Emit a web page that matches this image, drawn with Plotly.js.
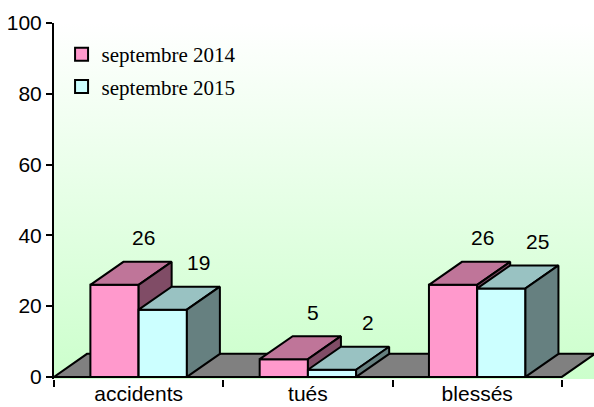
<!DOCTYPE html>
<html>
<head>
<meta charset="utf-8">
<script src="https://cdn.plot.ly/plotly-3.0.1.min.js"></script>
<style>html,body{margin:0;padding:0;background:#fff;}#chart{width:594px;height:407px;}</style>
</head>
<body>
<div id="chart"></div>
<script>
const categories = ['accidents', 'tués', 'blessés'];
const seriesNames = ['septembre 2014', 'septembre 2015'];
const values2014 = [26, 5, 26];
const values2015 = [19, 2, 25];
const yTickVals = [0, 20, 40, 60, 80, 100];

const series = [
  {name: seriesNames[0], values: values2014, front: '#ff99cc', top: '#bf7599', side: '#804c66', side0: -1},
  {name: seriesNames[1], values: values2015, front: '#ccffff', top: '#99c2c2', side: '#668080', side0: 0}
];

const barW = 0.285;     // bar width in category units
const depthX = 0.195;   // 3D depth, x direction (category units)
const depthY = 6.5;     // 3D depth, y direction (value units)
const edge = {color: '#000', width: 2};

function poly(xs, ys, fill) {
  return {type: 'scatter', mode: 'lines', x: xs.concat([xs[0]]), y: ys.concat([ys[0]]),
    fill: 'toself', fillcolor: fill, line: edge, showlegend: false, hoverinfo: 'skip'};
}

const traces = [];
// legend entries
series.forEach(s => traces.push({type: 'scatter', mode: 'markers', x: [null], y: [null], name: s.name,
  marker: {symbol: 'square', size: 13, color: s.front, line: {color: '#000', width: 2}}, legendgroup: s.name}));

// floor
const fx0 = -0.5, fx1 = categories.length - 0.5;
traces.push(poly([fx0, fx1, fx1 + depthX, fx0 + depthX], [0, 0, depthY, depthY], '#808080'));

const annotations = [];
const labelShift = [29, 36];
categories.forEach((c, i) => {
  series.forEach((s, k) => {
    const h = s.values[i];
    const x0 = i + s.side0 * barW, x1 = x0 + barW;
    traces.push(poly([x0, x1, x1, x0], [0, 0, h, h], s.front));
    traces.push(poly([x0, x1, x1 + depthX, x0 + depthX], [h, h, h + depthY, h + depthY], s.top));
    traces.push(poly([x1, x1 + depthX, x1 + depthX, x1], [0, depthY, h + depthY, h], s.side));
    annotations.push({x: (x0 + x1) / 2, y: h, xref: 'x', yref: 'y', text: String(h), showarrow: false,
      xshift: labelShift[k], yshift: 47, xanchor: 'center', yanchor: 'middle',
      font: {family: 'Liberation Sans, Arial', size: 21, color: '#000'}});
  });
});

const gradSvg = "<svg xmlns='http://www.w3.org/2000/svg' width='540' height='356' viewBox='0 0 540 356' preserveAspectRatio='none'>" +
  "<defs><linearGradient id='g' x1='0' y1='0' x2='0' y2='1'><stop offset='0' stop-color='#ffffff'/>" +
  "<stop offset='1' stop-color='#ccffcc'/></linearGradient></defs><rect width='540' height='356' fill='url(#g)'/></svg>";

const layout = {
  width: 594, height: 407,
  margin: {l: 54, r: 0, t: 23, b: 28},
  paper_bgcolor: '#fff', plot_bgcolor: 'rgba(0,0,0,0)',
  showlegend: true,
  legend: {x: 0.014, y: 0.969, xanchor: 'left', yanchor: 'top', bgcolor: 'rgba(0,0,0,0)',
    font: {family: 'Liberation Serif, Times New Roman', size: 21, color: '#000'}, itemwidth: 30, tracegroupgap: 2},
  xaxis: {range: [-0.5, 2.69], tickmode: 'array', tickvals: [0, 1, 2], ticktext: categories,
    ticks: '', showgrid: false, zeroline: false, showline: false, fixedrange: true, ticklabelstandoff: 0,
    tickfont: {family: 'Liberation Sans, Arial', size: 21, color: '#000'},
    minor: {tickmode: 'linear', tick0: -0.5, dtick: 1, ticks: 'outside', ticklen: 7, tickwidth: 2, tickcolor: '#000', showgrid: false}},
  yaxis: {range: [-0.6, 100], tickmode: 'array', tickvals: yTickVals, ticks: 'outside', ticklen: 6, tickwidth: 2,
    tickcolor: '#000', showline: true, linewidth: 2, linecolor: '#000', showgrid: false, zeroline: false,
    tickfont: {family: 'Liberation Sans, Arial', size: 21, color: '#000'}, fixedrange: true},
  images: [{source: 'data:image/svg+xml;base64,' + btoa(gradSvg), xref: 'paper', yref: 'paper',
    x: 0, y: 1, sizex: 1, sizey: 1, xanchor: 'left', yanchor: 'top', sizing: 'stretch', layer: 'below'}],
  annotations: annotations
};

Plotly.newPlot('chart', traces, layout, {displayModeBar: false, staticPlot: true});
</script>
</body>
</html>
